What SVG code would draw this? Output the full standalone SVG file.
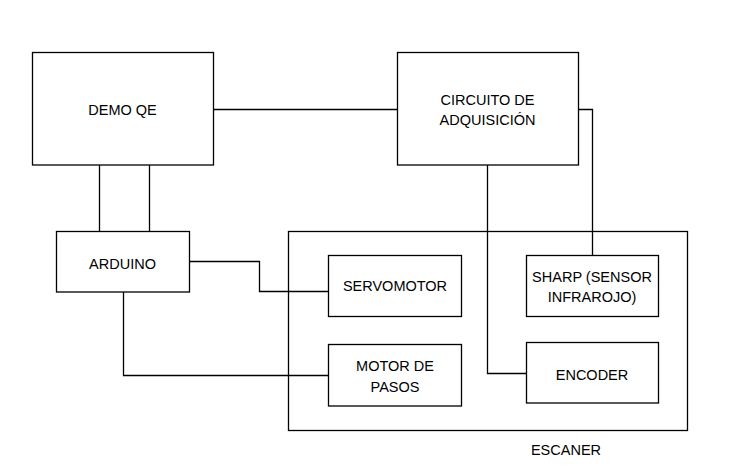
<svg xmlns="http://www.w3.org/2000/svg" width="734" height="476" viewBox="0 0 734 476">
<style>
.box{fill:#fff;stroke:#000;stroke-width:1.3}
.t{font-family:"Liberation Sans",Arial,sans-serif;font-size:14.5px;fill:#000;text-anchor:middle}
.c{fill:none;stroke:#000;stroke-width:1.3}
</style>
<rect width="734" height="476" fill="#fff"/>
<g id="escaner">
<rect class="box" x="288.5" y="231.5" width="399" height="199" style="fill:none"/>
<text class="t" x="566" y="455">ESCANER</text>
</g>
<g id="connectors">
<path class="c" d="M213.5 109.5H397.5"/>
<path class="c" d="M99.5 165V231.5M149.5 165V231.5"/>
<path class="c" d="M578.5 109.5H592.5V255.5"/>
<path class="c" d="M487.5 165V373.5H526.5"/>
<path class="c" d="M189.5 261.5H259.5V291.5H328.5"/>
<path class="c" d="M123.5 291.5V375.5H328.5"/>
</g>
<g id="demo">
<rect class="box" x="32.5" y="52.5" width="181" height="112.5"/>
<text class="t" x="122.5" y="115">DEMO QE</text>
</g>
<g id="circuito">
<rect class="box" x="397.5" y="52.5" width="181" height="112.5"/>
<text class="t" x="487.5" y="104.5">CIRCUITO DE</text>
<text class="t" x="487.5" y="125">ADQUISICIÓN</text>
</g>
<g id="arduino">
<rect class="box" x="56.5" y="231.5" width="133" height="60.5"/>
<text class="t" x="122.5" y="268.5">ARDUINO</text>
</g>
<g id="servomotor">
<rect class="box" x="328.5" y="255.5" width="133" height="61"/>
<text class="t" x="395" y="291">SERVOMOTOR</text>
</g>
<g id="sharp">
<rect class="box" x="526.5" y="255.5" width="132" height="61"/>
<text class="t" x="592" y="282">SHARP (SENSOR</text>
<text class="t" x="592" y="302">INFRAROJO)</text>
</g>
<g id="motor">
<rect class="box" x="328.5" y="344.5" width="133" height="61.5"/>
<text class="t" x="395" y="371">MOTOR DE</text>
<text class="t" x="395" y="392">PASOS</text>
</g>
<g id="encoder">
<rect class="box" x="526.5" y="342.5" width="132" height="60.5"/>
<text class="t" x="592" y="379.5">ENCODER</text>
</g>
</svg>
